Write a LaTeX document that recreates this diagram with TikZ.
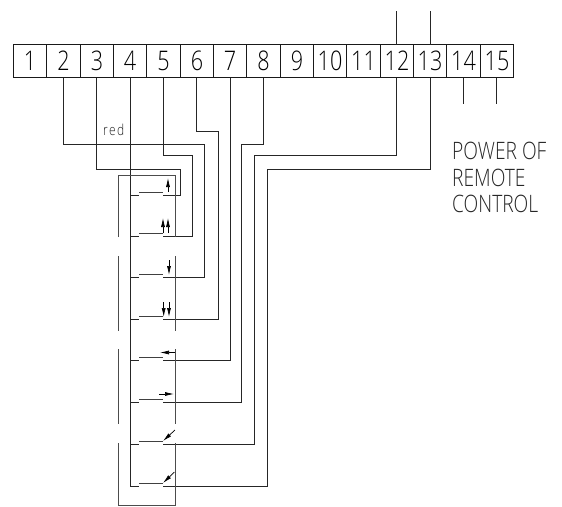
\documentclass[tikz,border=0pt]{standalone}
\usepackage{fontspec}
\setmainfont{Open Sans}[UprightFont=* Light,FakeStretch=0.8]
\usetikzlibrary{arrows.meta}
\tikzset{
  x=1pt,y=-1pt,
  terminal/.style={draw=black!90,line width=1.1pt,outer sep=0pt,minimum height=33pt,inner sep=0pt,font=\fontsize{27}{27}\selectfont},
  wire/.style={draw=black!85,line width=1.1pt},
  linkage/.style={draw=black!70,line width=1.1pt},
  blade/.style={draw=black!75,line width=1.1pt},
  tip/.style={draw=black,line width=.7pt,-{Latex[length=9pt,width=4pt]}},
  caption/.style={anchor=base west,inner sep=0pt,font=\fontsize{24}{24}\selectfont,text=black!85},
}
\begin{document}
\begin{tikzpicture}
\useasboundingbox (0,0) rectangle (562,506);
\fill[white] (0,0) rectangle (562,506);
% terminal block: number / left edge / right edge / wire x
\foreach \n/\l/\r/\w in {1/13.5/46.5/30,2/46.5/80.5/63.5,3/80.5/113.5/96.5,4/113.5/146.5/130.5,5/146.5/180.5/163.5,6/180.5/213.5/196.5,7/213.5/246.5/230.5,8/246.5/280.5/263.5,9/280.5/313.5/297,10/313.5/346.5/330,11/346.5/380.5/363.5,12/380.5/413.5/396.5,13/413.5/446.5/430.5,14/446.5/480.5/463.5,15/480.5/513.5/496.5}{
  \node[terminal,minimum width={(\r-\l)*1pt}] (t\n) at ({(\l+\r)/2},61) {\n};
  \coordinate (p\n) at (\w,77.5);
  \coordinate (q\n) at (\w,44.5);
}
% top and bottom free ends
\coordinate (u12) at (396.5,11);
\coordinate (u13) at (430.5,11);
\coordinate (d14) at (463.5,104);
\coordinate (d15) at (496.5,104);
\draw[wire] (u12) -- (q12);
\draw[wire] (u13) -- (q13);
\draw[wire] (p14) -- (d14);
\draw[wire] (p15) -- (d15);
% contact points
\foreach \i/\y in {1/195.5,2/236.5,3/277.5,4/319.5,5/360.5,6/402.5,7/444.5,8/486.5}{
  \coordinate (k\i) at (163,\y);
  \coordinate (b\i) at (139,\y);
  \coordinate (s\i) at (130.5,\y);
  \draw[wire] (s\i) -- (b\i);
  \draw[blade] (139,\y-3) -- (163,\y-3);
}
% common bus
\draw[wire] (p4) -- (s8);
% wires to contacts
\draw[wire] (p3) |- (180.5,169.5) |- (k1);
\draw[wire] (p5) |- (192.5,155.5) |- (k2);
\draw[wire] (p2) |- (204.5,144.5) |- (k3);
\draw[wire] (p6) |- (218.5,131.5) |- (k4);
\draw[wire] (p7) |- (k5);
\draw[wire] (p8) |- (241.5,144.5) |- (k6);
\draw[wire] (p12) |- (254.5,155.5) |- (k7);
\draw[wire] (p13) |- (267.5,169.5) |- (k8);
% mechanical linkage
\draw[linkage] (118.5,237) -- (118.5,175.5) -- (175.5,175.5) -- (175.5,237);
\draw[linkage] (118.5,256) -- (118.5,331);
\draw[linkage] (175.5,256) -- (175.5,331);
\draw[linkage] (118.5,349) -- (118.5,424);
\draw[linkage] (175.5,349) -- (175.5,424);
\draw[linkage] (118.5,443) -- (118.5,505.5) -- (175.5,505.5) -- (175.5,443);
% arrows
\draw[tip] (168,192) -- (168,178);
\draw[tip] (163,233) -- (163,218);
\draw[tip] (168,233) -- (168,218);
\draw[tip] (169,260) -- (169,275);
\draw[tip] (163.7,302) -- (163.7,317);
\draw[tip] (169,302) -- (169,317);
\draw[tip] (175,352.5) -- (160,352.5);
\draw[tip] (159,394) -- (174,394);
\draw[tip] (175,430) -- (163,441);
\draw[tip] (174.5,472) -- (163,483);
% labels
\node[caption,font=\fontsize{15}{15}\selectfont\addfontfeature{LetterSpace=10}] (red) at (103,135) {red};
\node[caption] (l1) at (452,159) {POWER OF};
\node[caption] (l2) at (452,186) {REMOTE};
\node[caption] (l3) at (452,212) {CONTROL};
\end{tikzpicture}
\end{document}
